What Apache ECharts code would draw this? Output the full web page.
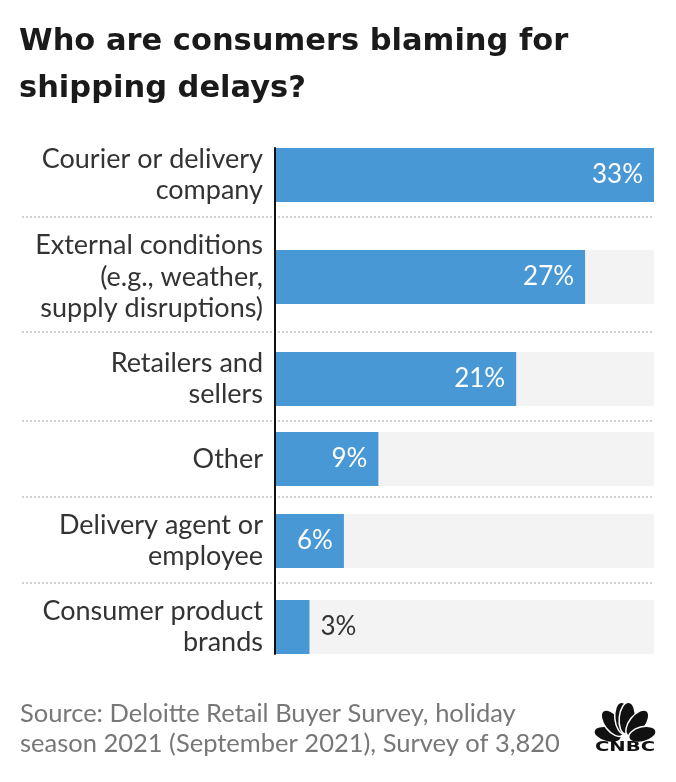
<!DOCTYPE html>
<html><head><meta charset="utf-8">
<script src="https://cdn.jsdelivr.net/npm/echarts@6/dist/echarts.min.js"></script>
<style>html,body{margin:0;padding:0;background:#fff}#c{width:676px;height:782px}</style>
</head><body><div id="c"></div>
<script>
// ---- data ----
const categories = [
  'Courier or delivery\ncompany',
  'External conditions\n(e.g., weather,\nsupply disruptions)',
  'Retailers and\nsellers',
  'Other',
  'Delivery agent or\nemployee',
  'Consumer product\nbrands'
];
const values = [33, 27, 21, 9, 6, 3];
const valueMax = 33;
const titleText = 'Who are consumers blaming for\nshipping delays?';
const sourceText = 'Source: Deloitte Retail Buyer Survey, holiday\nseason 2021 (September 2021), Survey of 3,820';

// ---- layout ----
const barTops = [148, 250, 352, 432, 514, 600];
const barHeight = 54;
const separatorYs = [217, 332, 421, 497, 583];
const plotLeft = 275, plotRight = 22;
const FONT = 'Lato';

const grids = [], xAxes = [], yAxes = [], series = [];
categories.forEach((cat, i) => {
  grids.push({left: plotLeft, right: plotRight, top: barTops[i], height: barHeight});
  xAxes.push({type: 'value', gridIndex: i, min: 0, max: valueMax, show: false});
  yAxes.push({
    type: 'category', gridIndex: i, data: [cat],
    axisLine: {show: false}, axisTick: {show: false}, splitLine: {show: false},
    axisLabel: {fontSize: 27, lineHeight: 31.5, color: '#333', margin: 12, fontFamily: FONT, align: 'right'}
  });
  const inside = values[i] >= 6;
  series.push({
    type: 'bar', xAxisIndex: i, yAxisIndex: i, data: [values[i]],
    barWidth: barHeight, showBackground: true,
    backgroundStyle: {color: '#f3f3f3'},
    itemStyle: {color: '#4898d6'},
    label: {
      show: true, position: inside ? 'insideRight' : 'right', distance: 11,
      formatter: '{c}%', color: inside ? '#ffffff' : '#333', fontSize: 26, fontFamily: FONT
    },
    silent: true
  });
});
// axis-line grid spanning all rows
const axisIdx = categories.length;
grids.push({left: plotLeft, right: plotRight, top: barTops[0], bottom: 782 - (barTops[barTops.length - 1] + barHeight)});
xAxes.push({type: 'value', gridIndex: axisIdx, show: false, min: 0, max: 1});
yAxes.push({type: 'value', gridIndex: axisIdx, min: 0, max: 1, z: 10,
  axisLine: {show: true, lineStyle: {color: '#111', width: 2}},
  axisTick: {show: false}, axisLabel: {show: false}, splitLine: {show: false}});

const graphics = separatorYs.map(y => ({
  type: 'line', z: -1,
  shape: {x1: 22, y1: y, x2: 676 - plotRight, y2: y},
  style: {stroke: '#d0d0d0', lineWidth: 2, lineDash: [2, 2]}
}));

// CNBC peacock logo
const logoCx = 625, logoCy = 739;
const featherAngles = [165, 128, 96, 84, 52, 15];
const featherDist = [18, 20, 21, 21, 20, 18];
const featherLen = [14, 15.5, 16, 16, 15.5, 14];
const featherWid = [7.5, 8, 8, 8, 8, 7.5];
featherAngles.forEach((a, k) => {
  const r = a * Math.PI / 180;
  graphics.push({
    type: 'ellipse', z: 5,
    x: logoCx + featherDist[k] * Math.cos(r),
    y: logoCy - featherDist[k] * Math.sin(r),
    rotation: r,
    shape: {cx: 0, cy: 0, rx: featherLen[k], ry: featherWid[k]},
    style: {fill: '#111', stroke: '#fff', lineWidth: 1.5}
  });
});
graphics.push({
  type: 'text', z: 6, x: 625, y: 747, scaleX: 1.45,
  style: {text: 'CNBC', x: 0, y: 0, align: 'center', verticalAlign: 'middle',
    font: 'bold 13.5px "DejaVu Sans"', fill: '#111'}
});

const chart = echarts.init(document.getElementById('c'));
chart.setOption({
  animation: false,
  backgroundColor: '#fff',
  title: [
    {text: titleText, left: 19, top: 19, padding: 0,
     textStyle: {fontSize: 30.5, lineHeight: 47, fontWeight: 'bold', color: '#1a1a1a', fontFamily: 'DejaVu Sans'}},
    {text: sourceText, left: 20, top: 699, padding: 0,
     textStyle: {fontSize: 25.5, lineHeight: 30, fontWeight: 'normal', color: '#777', fontFamily: FONT}}
  ],
  grid: grids, xAxis: xAxes, yAxis: yAxes, series: series,
  graphic: graphics
});
</script></body></html>
